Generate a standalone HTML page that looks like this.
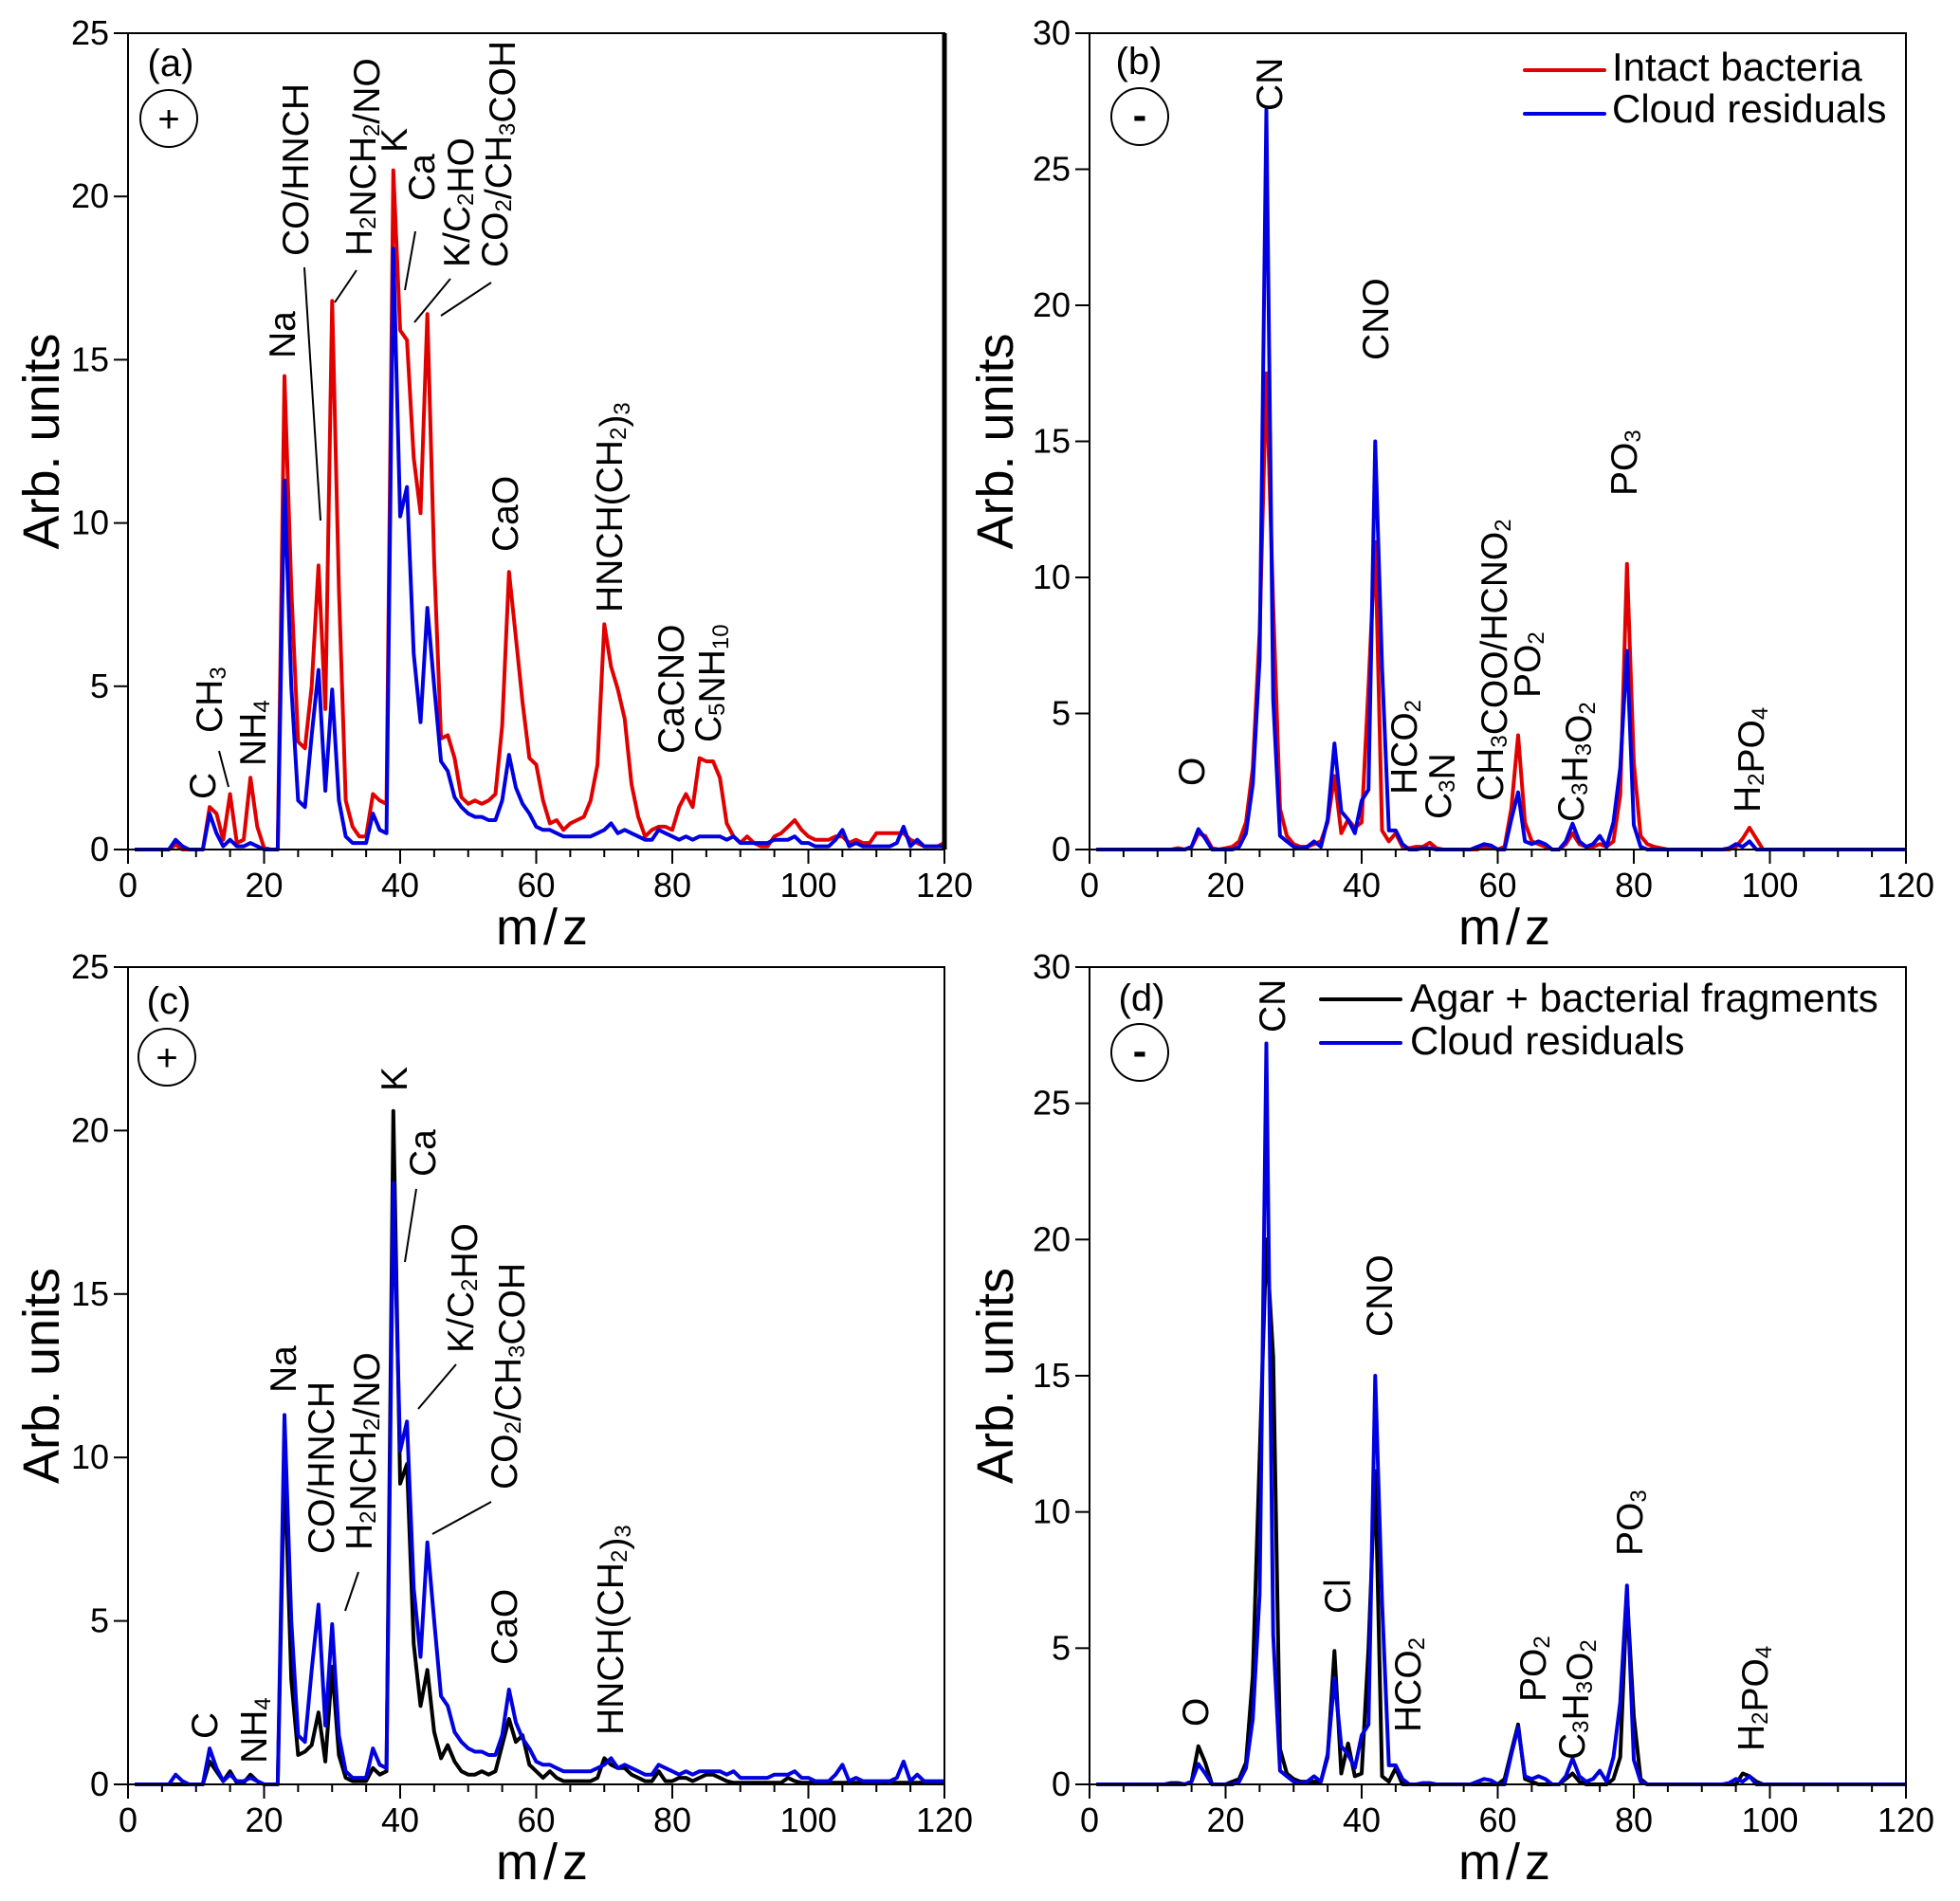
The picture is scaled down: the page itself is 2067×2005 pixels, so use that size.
<!DOCTYPE html>
<html><head><meta charset="utf-8"><title>Mass spectra</title>
<style>
html,body{margin:0;padding:0;background:#fff;}
svg{display:block;font-family:"Liberation Sans",Arial,sans-serif;}
</style></head>
<body>
<svg id="fig" xmlns="http://www.w3.org/2000/svg" width="2067" height="2005" viewBox="0 0 2067 2005">
<rect x="0" y="0" width="2067" height="2005" fill="#fff"/>
</svg>
<script>
// ---- data (m/z 1..120) ----
const mz = [];
for (let i = 1; i <= 120; i++) mz.push(i);
const xTicks = [0, 20, 40, 60, 80, 100, 120];
const yTicksPos = [0, 5, 10, 15, 20, 25];
const yTicksNeg = [0, 5, 10, 15, 20, 25, 30];

const intactPos = [
0,0,0,0,0,0,0.15,0,0,0,
0,1.3,1.1,0.3,1.7,0.2,0.3,2.2,0.7,0.05,
0,0,14.5,8,3.3,3.1,5,8.7,4.3,16.8,
8,1.5,0.7,0.4,0.4,1.7,1.5,1.4,20.8,15.9,
15.6,12,10.3,16.4,8.8,3.4,3.5,2.8,1.6,1.4,
1.5,1.4,1.5,1.7,3.8,8.5,6.5,4.5,2.8,2.6,
1.5,0.8,0.9,0.6,0.8,0.9,1,1.5,2.6,6.9,
5.6,4.9,4,2,1,0.4,0.6,0.7,0.7,0.6,
1.3,1.7,1.3,2.8,2.7,2.7,2.2,0.8,0.4,0.2,
0.4,0.2,0.1,0.1,0.4,0.5,0.7,0.9,0.6,0.4,
0.3,0.3,0.3,0.4,0.4,0.2,0.3,0.2,0.2,0.5,
0.5,0.5,0.5,0.5,0.3,0.2,0.1,0.1,0.1,0.2];

const cloudPos = [
0,0,0,0,0,0,0.3,0.1,0,0,
0,1.1,0.5,0.1,0.3,0.1,0.1,0.2,0.1,0,
0,0,11.3,5,1.5,1.3,3.5,5.5,1.8,4.9,
1.5,0.4,0.2,0.2,0.2,1.1,0.6,0.5,18.4,10.2,
11.1,6,3.9,7.4,5,2.7,2.4,1.6,1.3,1.1,
1,1,0.9,0.9,1.5,2.9,1.9,1.4,1.1,0.7,
0.6,0.6,0.5,0.4,0.4,0.4,0.4,0.4,0.5,0.6,
0.8,0.5,0.6,0.5,0.4,0.3,0.3,0.6,0.5,0.4,
0.3,0.4,0.3,0.4,0.4,0.4,0.4,0.3,0.4,0.2,
0.2,0.2,0.2,0.2,0.3,0.3,0.3,0.4,0.2,0.2,
0.1,0.1,0.1,0.3,0.6,0.1,0.2,0.1,0.1,0.1,
0.1,0.1,0.2,0.7,0.1,0.3,0.1,0.1,0.1,0.1];

const agarPos = [
0,0,0,0,0,0,0,0,0,0,
0,0.7,0.4,0.1,0.4,0.05,0.05,0.3,0.1,0,
0,0,10,3.2,0.9,1,1.2,2.2,0.7,3.6,
0.9,0.2,0.1,0.1,0.1,0.5,0.3,0.4,20.6,9.2,
9.8,4.3,2.4,3.5,1.6,0.8,1.2,0.7,0.4,0.3,
0.3,0.4,0.3,0.4,1.2,2,1.3,1.5,0.6,0.4,
0.2,0.4,0.2,0.1,0.1,0.1,0.1,0.1,0.2,0.8,
0.6,0.5,0.5,0.3,0.2,0.1,0.1,0.4,0.1,0.1,
0.2,0.2,0.1,0.2,0.3,0.3,0.2,0.1,0.05,0.05,
0.05,0.05,0.05,0.05,0.05,0.05,0.2,0.1,0.05,0.05,
0.05,0.05,0.05,0.05,0.05,0.05,0.05,0.05,0.05,0.05,
0.05,0.05,0.05,0.05,0.05,0.05,0.05,0.05,0.05,0.05];

const intactNeg = [
0,0,0,0,0,0,0,0,0,0,
0,0,0.05,0,0.1,0.6,0.5,0.05,0,0.05,
0.1,0.3,1,3,8,17.5,9,1.5,0.5,0.2,
0.1,0.1,0.2,0.3,1,2.7,0.6,1.1,0.8,1,
6,11.3,0.7,0.3,0.6,0.1,0.05,0.1,0.1,0.25,
0.05,0,0,0,0,0,0,0.1,0.1,0,
0.1,1.5,4.2,1,0.3,0.2,0.1,0,0,0.2,
0.6,0.2,0.1,0.1,0.2,0.1,0.3,2,10.5,3.2,
0.5,0.2,0.1,0.05,0,0,0,0,0,0,
0,0,0,0,0.1,0.4,0.8,0.4,0,0,
0,0,0,0,0,0,0,0,0,0,
0,0,0,0,0,0,0,0,0,0];

const cloudNeg = [
0,0,0,0,0,0,0,0,0,0,
0,0,0,0,0.1,0.75,0.4,0,0,0,
0,0.1,0.6,2.4,7,27.2,5.5,0.5,0.3,0.1,
0.05,0.1,0.3,0.1,1.1,3.9,1.4,1.1,0.6,1.8,
2.2,15,6.7,0.7,0.7,0.2,0,0,0.05,0.05,
0,0,0,0,0,0,0.1,0.2,0.15,0,
0,1.1,2.1,0.3,0.2,0.3,0.2,0,0,0.3,
0.95,0.3,0.1,0.2,0.5,0.1,1,3,7.3,0.9,
0.1,0,0,0,0,0,0,0,0,0,
0,0,0,0.05,0.2,0.1,0.3,0,0,0,
0,0,0,0,0,0,0,0,0,0,
0,0,0,0,0,0,0,0,0,0];

const agarNeg = [
0,0,0,0,0,0,0,0,0,0,
0,0.05,0.05,0,0.1,1.4,0.8,0,0,0,
0.1,0.2,0.8,4,12,20,15.7,1.3,0.4,0.2,
0.1,0.1,0.1,0.1,1,4.9,0.4,1.5,0.3,0.4,
5,11.5,0.3,0.1,0.6,0,0,0,0,0,
0,0,0,0,0,0,0,0,0,0,
0.2,1.2,2.2,0.2,0.1,0,0,0,0,0.2,
0.4,0.1,0,0,0,0,0.2,1,7,2.5,
0.2,0,0,0,0,0,0,0,0,0,
0,0,0,0,0,0.4,0.3,0.1,0,0,
0,0,0,0,0,0,0,0,0,0,
0,0,0,0,0,0,0,0,0,0];

const RED = "#e00000", BLUE = "#0000e0", BLACK = "#000";
const NS = "http://www.w3.org/2000/svg";
const svg = document.getElementById("fig");
const AFS = 39;

function mk(tag, attrs, parent) {
  const e = document.createElementNS(NS, tag);
  for (const k in attrs) e.setAttribute(k, attrs[k]);
  (parent || svg).appendChild(e);
  return e;
}
function fillText(t, str, fs) {
  let i = 0;
  while (i < str.length) {
    if (str[i] === "_") {
      let j = i + 1, d = "";
      while (j < str.length && /[0-9]/.test(str[j])) { d += str[j]; j++; }
      const s = document.createElementNS(NS, "tspan");
      s.setAttribute("font-size", Math.round(fs * 0.62));
      s.setAttribute("dy", Math.round(fs * 0.1));
      s.textContent = d;
      t.appendChild(s);
      const r = document.createElementNS(NS, "tspan");
      r.setAttribute("dy", -Math.round(fs * 0.1));
      r.textContent = "";
      t.appendChild(r);
      i = j;
    } else {
      let j = i, s = "";
      while (j < str.length && str[j] !== "_") { s += str[j]; j++; }
      const r = document.createElementNS(NS, "tspan");
      r.textContent = s;
      t.appendChild(r);
      i = j;
    }
  }
}

const panels = [
  {id:"a", L:135, R:996, T:35, B:896, ymax:25, yt:yTicksPos, sign:"+", thickRight:true,
   series:[{d:intactPos,c:RED,n:"intact-bacteria-line"},{d:cloudPos,c:BLUE,n:"cloud-residuals-line"}],
   lab:[180,80], circ:[178,125], titleX:43, mzX:574,
   ann:[["C",227,843],["CH_3",234,773],["NH_4",280,808],["Na",311,378],["CO/HNCH",325,270],
        ["H_2NCH_2/NO",392,270],["K",429,161],["Ca",458,212],["K/C_2HO",495,282],["CO_2/CH_3COH",535,282],
        ["CaO",546,582],["HNCH(CH_2)_3",656,646],["CaCNO",721,795],["C_5NH_10",760,783]],
   lines:[[231,792,241,830],[321,282,338,549],[376,285,353,319],[438,244,427,306],[475,294,437,340],[518,298,465,333]],
   legend:null},
  {id:"b", L:1149, R:2010, T:35, B:896, ymax:30, yt:yTicksNeg, sign:"-",
   series:[{d:intactNeg,c:RED,n:"intact-bacteria-line"},{d:cloudNeg,c:BLUE,n:"cloud-residuals-line"}],
   lab:[1201,78], circ:[1202,123], titleX:1049, mzX:1589,
   ann:[["CN",1352,117],["CNO",1464,380],["O",1270,829],["HCO_2",1494,838],["C_3N",1530,864],
        ["CH_3COO/HCNO_2",1585,845],["PO_2",1624,736],["C_3H_3O_2",1670,867],["PO_3",1726,523],["H_2PO_4",1856,857]],
   lines:[],
   legend:{x1:1608, x2:1692, tx:1700, rows:[["Intact bacteria",RED,74,85],["Cloud residuals",BLUE,120,129]]}},
  {id:"c", L:135, R:996, T:1020, B:1882, ymax:25, yt:yTicksPos, sign:"+",
   series:[{d:agarPos,c:BLACK,n:"agar-fragments-line"},{d:cloudPos,c:BLUE,n:"cloud-residuals-line"}],
   lab:[178,1069], circ:[176,1115], titleX:43, mzX:574,
   ann:[["C",229,1834],["NH_4",281,1860],["Na",312,1469],["CO/HNCH",352,1639],["H_2NCH_2/NO",392,1635],
        ["K",429,1151],["Ca",459,1241],["K/C_2HO",499,1427],["CO_2/CH_3COH",545,1571],["CaO",545,1756],["HNCH(CH_2)_3",657,1830]],
   lines:[[378,1658,364,1699],[439,1254,427,1331],[481,1439,441,1486],[518,1584,456,1618]],
   legend:null},
  {id:"d", L:1149, R:2010, T:1020, B:1882, ymax:30, yt:yTicksNeg, sign:"-",
   series:[{d:agarNeg,c:BLACK,n:"agar-fragments-line"},{d:cloudNeg,c:BLUE,n:"cloud-residuals-line"}],
   lab:[1204,1066], circ:[1202,1110], titleX:1049, mzX:1589,
   ann:[["CN",1355,1089],["CNO",1468,1410],["Cl",1424,1702],["HCO_2",1498,1827],["O",1274,1821],
        ["PO_2",1630,1795],["C_3H_3O_2",1671,1856],["PO_3",1732,1641],["H_2PO_4",1860,1847]],
   lines:[],
   legend:{x1:1393, x2:1477, tx:1487, rows:[["Agar + bacterial fragments",BLACK,1054,1067],["Cloud residuals",BLUE,1100,1112]]}}
];

panels.forEach(p => {
  const g = mk("g", {});
  
  
  const xs = v => p.L + (v / 120) * (p.R - p.L);
  const ys = v => p.B - (v / p.ymax) * (p.B - p.T);

  p.series.forEach(s => {
    const pts = mz.map((m, i) => xs(m).toFixed(1) + "," + ys(s.d[i]).toFixed(1)).join(" ");
    const pl = mk("polyline", {points: pts, fill: "none", stroke: s.c, "stroke-width": 4, "stroke-linejoin": "round"}, g);
    
    
  });

  const fr = mk("rect", {x: p.L, y: p.T, width: p.R - p.L, height: p.B - p.T, fill: "none", stroke: "#000", "stroke-width": 2}, g);
  
  
  if (p.thickRight) {
    const tr = mk("line", {x1: p.R, y1: p.T, x2: p.R, y2: p.B, stroke: "#000", "stroke-width": 5}, g);
    
    
  }

  for (let v = 0; v <= 120; v += 5) {
    const maj = v % 20 === 0;
    const t = mk("line", {x1: xs(v), y1: p.B, x2: xs(v), y2: p.B + (maj ? 15 : 8), stroke: "#000", "stroke-width": 2}, g);
    
    
  }
  xTicks.forEach(v => {
    const t = mk("text", {x: xs(v), y: p.B + 50, "font-size": 36, "text-anchor": "middle"}, g);
    t.textContent = v;
    
    
  });
  p.yt.forEach(v => {
    const t = mk("line", {x1: p.L - 15, y1: ys(v), x2: p.L, y2: ys(v), stroke: "#000", "stroke-width": 2}, g);
    
    
    const l = mk("text", {x: p.L - 20, y: ys(v) + 12, "font-size": 36, "text-anchor": "end"}, g);
    l.textContent = v;
    
    
  });
  const yt = mk("text", {transform: `translate(${p.titleX + 19},${(p.T + p.B) / 2}) rotate(-90)`, "font-size": 54, "text-anchor": "middle"}, g);
  yt.textContent = "Arb. units";
  
  
  const xt = mk("text", {x: p.mzX, y: p.B + 100, "font-size": 54, "text-anchor": "middle", "letter-spacing": 5}, g);
  xt.textContent = "m/z";
  
  

  const pl = mk("text", {x: p.lab[0], y: p.lab[1], "font-size": 40, "text-anchor": "middle"}, g);
  pl.textContent = "(" + p.id + ")";
  
  
  const c = mk("circle", {cx: p.circ[0], cy: p.circ[1], r: 30, fill: "none", stroke: "#000", "stroke-width": 2}, g);
  
  
  if (p.sign === "+") {
    const s = mk("text", {x: p.circ[0], y: p.circ[1] + 14, "font-size": 40, "text-anchor": "middle"}, g);
    s.textContent = "+";
    
    
  } else {
    const s = mk("text", {x: p.circ[0], y: p.circ[1] + 13, "font-size": 44, "font-weight": "bold", "text-anchor": "middle"}, g);
    s.textContent = "-";
    
    
  }

  p.ann.forEach(a => {
    const t = mk("text", {transform: `translate(${a[1]},${a[2]}) rotate(-90)`, "font-size": AFS}, g);
    fillText(t, a[0], AFS);
    
    
  });
  p.lines.forEach(l => {
    const e = mk("line", {x1: l[0], y1: l[1], x2: l[2], y2: l[3], stroke: "#000", "stroke-width": 2}, g);
    
    
  });

  if (p.legend) {
    const lg = mk("g", {}, g);
    
    
    p.legend.rows.forEach(e => {
      const ln = mk("line", {x1: p.legend.x1, y1: e[2], x2: p.legend.x2, y2: e[2], stroke: e[1], "stroke-width": 4, "stroke-linecap": "round"}, lg);
      
      
      const tx = mk("text", {x: p.legend.tx, y: e[3], "font-size": 42}, lg);
      tx.textContent = e[0];
      
      
    });
  }
});
</script>
</body></html>
